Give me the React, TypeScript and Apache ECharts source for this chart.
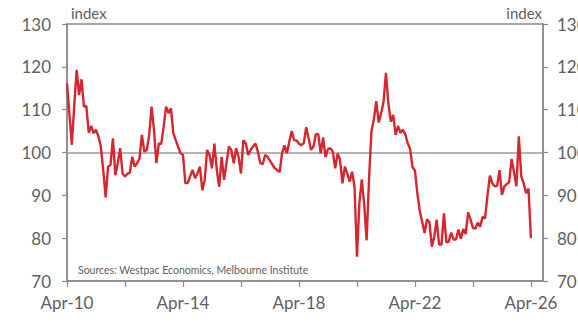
import React, { useEffect, useRef } from "react";
import * as echarts from "echarts";

// Monthly consumer sentiment index, Apr-2010 to Apr-26 (one array per calendar year)
const y2010 = [116.2, 109.0, 101.8, 111.0, 119.3, 113.4, 117.1, 110.7, 110.9]; // Apr–Dec
const y2011 = [104.6, 106.2, 104.5, 105.3, 103.8, 101.4, 95.9, 89.5, 96.7, 97.1, 103.3, 94.7];
const y2012 = [97.5, 101.0, 95.1, 94.4, 95.0, 95.3, 99.0, 96.7, 97.5, 98.6, 104.1, 100.2];
const y2013 = [100.6, 104.0, 110.7, 105.3, 97.5, 102.1, 102.0, 106.0, 110.7, 109.2, 110.3, 104.5];
const y2014 = [102.9, 101.3, 99.8, 99.4, 92.8, 92.9, 94.5, 95.9, 94.0, 95.1, 96.7, 91.2];
const y2015 = [93.6, 100.6, 99.4, 96.3, 102.1, 95.9, 92.0, 99.0, 93.6, 97.5, 101.4, 100.6];
const y2016 = [97.5, 101.0, 99.0, 95.1, 102.9, 102.1, 99.4, 100.6, 101.4, 102.1, 100.2, 97.5];
const y2017 = [97.3, 99.4, 99.0, 98.1, 97.2, 96.3, 95.9, 95.4, 99.8, 101.7, 99.8, 102.5];
const y2018 = [105.0, 102.9, 102.8, 102.1, 101.7, 102.2, 105.9, 103.3, 100.6, 101.4, 104.3, 104.3];
const y2019 = [99.8, 103.5, 98.9, 100.8, 101.0, 100.2, 96.3, 99.8, 98.3, 92.8, 96.7, 95.1];
const y2020 = [93.2, 95.5, 92.0, 75.7, 88.1, 93.7, 87.9, 79.5, 93.8, 105.0, 107.7, 112.0];
const y2021 = [107.0, 109.1, 111.8, 118.6, 111.5, 107.2, 108.8, 104.1, 106.2, 104.6, 105.3, 104.3];
const y2022 = [102.2, 100.8, 96.6, 95.8, 90.4, 86.4, 83.8, 81.2, 84.4, 83.7, 78.0, 80.3];
const y2023 = [84.3, 78.5, 78.5, 85.8, 79.0, 79.2, 81.3, 79.7, 79.7, 82.0, 79.9, 82.1];
const y2024 = [81.0, 86.0, 84.4, 82.4, 82.2, 83.6, 82.7, 85.0, 84.6, 89.8, 94.6, 92.8];
const y2025 = [92.1, 92.2, 95.9, 90.1, 92.1, 92.6, 93.1, 98.5, 95.4, 92.1, 103.8, 94.5];
const y2026 = [92.8, 90.5, 91.6, 80.0]; // Jan–Apr

const yearlyValues = [
  y2010, y2011, y2012, y2013, y2014, y2015, y2016, y2017,
  y2018, y2019, y2020, y2021, y2022, y2023, y2024, y2025, y2026,
];

// x axis counts months from Apr-2010
const START_YEAR = 2010;
const START_MONTH = 3; // April, zero-based
const MONTH_NAMES = ["Jan", "Feb", "Mar", "Apr", "May", "Jun", "Jul", "Aug", "Sep", "Oct", "Nov", "Dec"];
const xTickMonths = [0, 24, 48, 72, 96, 120, 144, 168, 192];
const xLabelMonths = [0, 48, 96, 144, 192];
const X_MAX_MONTH = 197;

const yTicks = { min: 70, max: 130, step: 10 };
const neutralLevel = 100;

const sourceNote = "Sources: Westpac Economics, Melbourne Institute";

const FONT = "Lato, 'Open Sans', sans-serif";
const TEXT = "#606060";
const FRAME = "#8a8a8a";
const RED = "#d7262e";

function monthLabel(m: number): string {
  const total = START_MONTH + Math.round(m);
  const year = START_YEAR + Math.floor(total / 12);
  return `${MONTH_NAMES[total % 12]}-${String(year % 100).padStart(2, "0")}`;
}

export default function App() {
  const ref = useRef<HTMLDivElement>(null);

  useEffect(() => {
    if (!ref.current) return;
    const chart = echarts.init(ref.current, undefined, { renderer: "svg" });

    const points: [number, number][] = [];
    yearlyValues.flat().forEach((v, i) => points.push([i, v]));

    const yAxisBase = {
      type: "value" as const,
      min: yTicks.min,
      max: yTicks.max,
      interval: yTicks.step,
      splitLine: { show: false },
      axisLine: { show: true, lineStyle: { color: FRAME, width: 1.5 } },
      axisTick: { show: true, length: 5, lineStyle: { color: FRAME, width: 1.2 } },
      axisLabel: { color: TEXT, fontSize: 17, fontFamily: FONT },
      name: "index",
      nameLocation: "end" as const,
      nameGap: 4,
    };

    chart.setOption({
      animation: false,
      grid: {
        left: 67,
        right: 35,
        top: 24,
        bottom: 43,
        containLabel: false,
        outerBoundsMode: "none",
        show: true,
        borderColor: FRAME,
        borderWidth: 1.5,
        backgroundColor: "transparent",
      },
      xAxis: {
        type: "value",
        min: 0,
        max: X_MAX_MONTH,
        interval: 24,
        splitLine: { show: false },
        axisLine: { show: true, lineStyle: { color: FRAME, width: 1.5 } },
        axisTick: {
          show: true,
          length: 6,
          customValues: xTickMonths,
          lineStyle: { color: FRAME, width: 1.2 },
        },
        axisLabel: {
          customValues: xLabelMonths,
          formatter: (v: number) => monthLabel(v),
          color: TEXT,
          fontSize: 17,
          fontFamily: FONT,
          margin: 13,
        },
      },
      yAxis: [
        {
          ...yAxisBase,
          position: "left",
          axisLabel: { ...yAxisBase.axisLabel, margin: 16 },
          nameTextStyle: { color: TEXT, fontSize: 15, fontFamily: FONT, align: "left", padding: [0, 0, 0, 4] },
        },
        {
          ...yAxisBase,
          position: "right",
          axisLabel: { ...yAxisBase.axisLabel, margin: 14 },
          nameTextStyle: { color: TEXT, fontSize: 15, fontFamily: FONT, align: "right", padding: [0, 1, 0, 0] },
        },
      ],
      graphic: [
        {
          type: "text",
          left: 78,
          top: 264,
          style: { text: sourceNote, fill: TEXT, fontSize: 10.5, fontFamily: FONT },
        },
      ],
      series: [
        {
          type: "line",
          data: points,
          yAxisIndex: 0,
          showSymbol: false,
          symbol: "none",
          lineStyle: { color: RED, width: 2.4 },
          z: 3,
          markLine: {
            silent: true,
            symbol: "none",
            label: { show: false },
            lineStyle: { color: "#9a9a9a", width: 1.5, type: "solid" },
            data: [{ yAxis: neutralLevel }],
            z: 1,
          },
        },
      ],
    });

    return () => chart.dispose();
  }, []);

  return (
    <div
      ref={ref}
      style={{ position: "fixed", left: 0, top: 0, width: 578, height: 324, background: "#fff" }}
    />
  );
}
